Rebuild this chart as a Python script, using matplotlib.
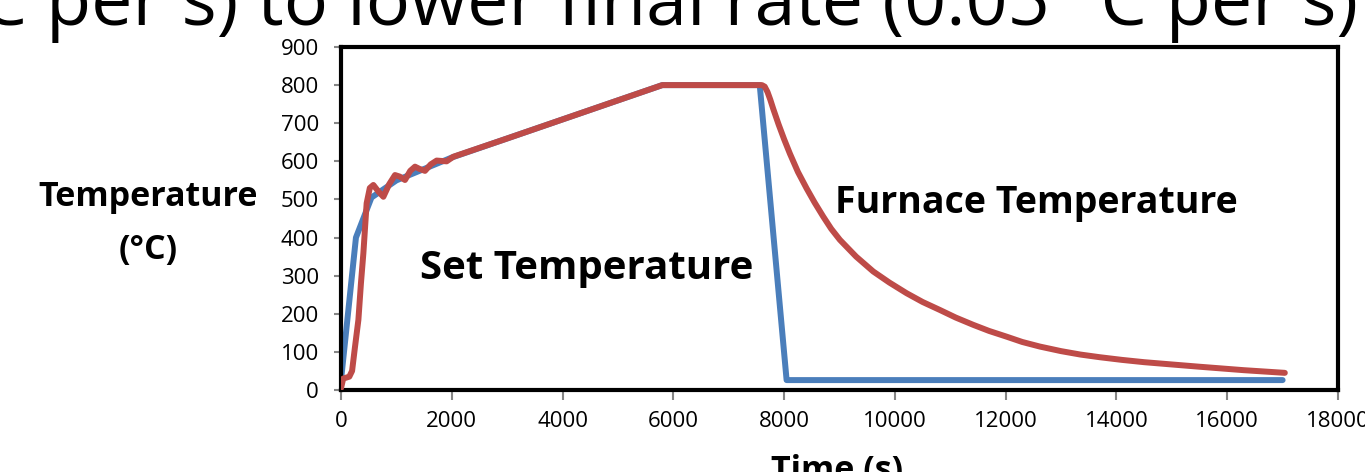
import numpy as np
import matplotlib.pyplot as plt

# Set temperature program (s, degC)
set_t = [0, 270, 550, 1000, 2000, 5800, 7560, 8045, 17000]
set_T = [25, 400, 505, 550, 610, 800, 800, 26, 26]

# Measured furnace temperature (s, degC)
furn_t = [0, 40, 150, 200, 250, 314, 360, 404, 463, 520, 584, 680, 765, 870,
          975, 1060, 1155, 1250, 1336, 1420, 1516, 1620, 1727, 1907, 2027,
          3000, 4000, 5000, 5800, 6500, 7600, 7650, 7700, 7750, 7803, 7900,
          8000, 8105, 8250, 8406, 8550, 8706, 8850, 9007, 9300, 9609, 9900,
          10211, 10500, 10812, 11100, 11414, 11700, 12016, 12300, 12617,
          13000, 13350, 13700, 14100, 14500, 15000, 15505, 16300, 17040]
furn_T = [5, 30, 35, 50, 110, 184, 280, 359, 490, 530, 538, 520, 507, 540,
          564, 560, 551, 575, 586, 580, 575, 592, 602, 600, 612,
          660, 710, 760, 800, 800, 800, 796, 782, 762, 738, 697,
          658, 620, 572, 529, 492, 455, 423, 394, 350, 311, 282,
          254, 231, 210, 190, 171, 155, 140, 126, 114,
          102, 93, 86, 79, 73, 67, 61, 52, 45]

xticks = np.arange(0, 18001, 2000)
yticks = np.arange(0, 901, 100)

plt.rcParams['font.family'] = ['Open Sans', 'DejaVu Sans']

fig = plt.figure(figsize=(13.65, 4.72), dpi=100)
ax = fig.add_axes([341/1365, 82/472, 997/1365, 343/472])

ax.plot(set_t, set_T, color='#4A7EBB', lw=4.3, solid_capstyle='round', zorder=2)
ax.plot(furn_t, furn_T, color='#BE4B48', lw=4.3, solid_capstyle='round',
        solid_joinstyle='round', zorder=3)

ax.set_xlim(0, 18000)
ax.set_ylim(0, 900)
ax.set_xticks(xticks)
ax.set_yticks(yticks)
ax.tick_params(axis='y', direction='out', length=5, width=1.5, color='#868686',
               labelsize=16, pad=11)
ax.tick_params(axis='x', direction='out', length=7, width=1.5, color='#868686',
               labelsize=16, pad=8)
for s in ax.spines.values():
    s.set_linewidth(3)
    s.set_color('black')

fig.text(148/1365, 1 - 197/472, 'Temperature', ha='center', va='center',
         fontsize=24.5, fontweight='bold')
fig.text(148/1365, 1 - 250/472, '(°C)', ha='center', va='center',
         fontsize=24.5, fontweight='bold')
fig.text(587/1365, 1 - 268/472, 'Set Temperature', ha='center', va='center',
         fontsize=29, fontweight='bold')
fig.text(1036/1365, 1 - 203/472, 'Furnace Temperature', ha='center', va='center',
         fontsize=27, fontweight='bold')
fig.text(837/1365, 1 - 480/472, 'Time (s)', ha='center', va='baseline',
         fontsize=24.5, fontweight='bold')
fig.text(1358/1365, 1 - 25/472, '°C per s) to lower final rate (0.05 °C per s)',
         ha='right', va='baseline', fontsize=53)

fig.savefig('out.png', dpi=100)
